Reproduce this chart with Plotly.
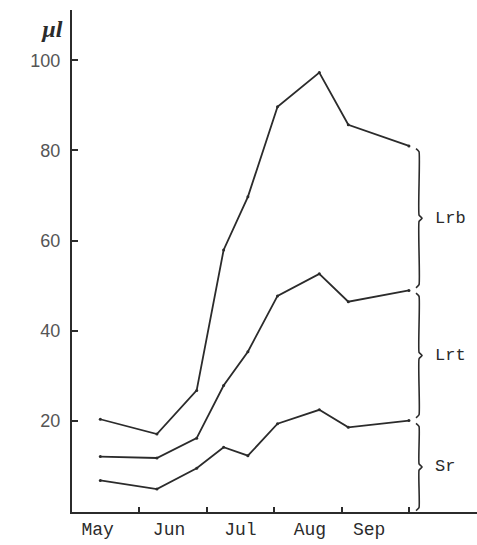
import plotly.graph_objects as go

# ---- data ----
months = ["May", "Jun", "Jul", "Aug", "Sep"]
month_label_pos = [0.38, 1.44, 2.5, 3.53, 4.41]
month_ticks = [1, 2, 3, 4, 5]
sample_pos = [0.42, 1.26, 1.85, 2.25, 2.61, 3.05, 3.67, 4.10, 5.00]

total_lrb = [20.3, 17.0, 26.7, 57.9, 69.7, 89.7, 97.3, 85.7, 81.0]
level_lrt = [12.0, 11.7, 16.1, 27.8, 35.3, 47.7, 52.6, 46.4, 48.9]
level_sr = [6.7, 4.8, 9.4, 14.1, 12.2, 19.3, 22.4, 18.5, 20.0]

brace_names = ["Lrb", "Lrt", "Sr"]
y_ticks = [20, 40, 60, 80, 100]

INK = "#2b2b2b"

fig = go.Figure()

for ys in (total_lrb, level_lrt, level_sr):
    fig.add_trace(go.Scatter(
        x=sample_pos, y=ys, mode="lines+markers",
        line=dict(color=INK, width=1.8),
        marker=dict(color=INK, size=3),
        showlegend=False, hoverinfo="skip"))

# braces spanning each band at the last sample
brace_x = 5.15
dx = 0.045
dy = 0.7
gap = 0.6
bounds = [(total_lrb[-1], level_lrt[-1]), (level_lrt[-1], level_sr[-1]), (level_sr[-1], 0.0)]
for name, (top, bot) in zip(brace_names, bounds):
    t = top - gap
    b = bot + gap if bot > 0 else bot
    m = (t + b) / 2
    bx = [brace_x - dx, brace_x, brace_x, brace_x + dx, brace_x, brace_x, brace_x - dx]
    by = [t, t - dy, m + dy, m, m - dy, b + dy, b]
    fig.add_trace(go.Scatter(x=bx, y=by, mode="lines",
                             line=dict(color=INK, width=1.6, shape="spline", smoothing=0.4),
                             showlegend=False, hoverinfo="skip"))
    fig.add_annotation(x=brace_x + 0.21, y=m, text=name, showarrow=False,
                       xanchor="left", yanchor="middle",
                       font=dict(family="Liberation Mono", size=17, color=INK))

# invisible trace to carry the month-label axis
fig.add_trace(go.Scatter(x=[None], y=[None], xaxis="x2", showlegend=False, hoverinfo="skip"))

fig.add_annotation(x=-0.05, xref="paper", y=107.0, yref="y", text="<b><i>µl</i></b>",
                   showarrow=False, xanchor="center", yanchor="middle",
                   font=dict(family="Liberation Serif", size=24, color=INK))

fig.update_layout(
    width=477, height=545,
    margin=dict(l=72, r=0, t=10, b=33),
    paper_bgcolor="white", plot_bgcolor="white",
    xaxis=dict(range=[0, 6.01], tickvals=month_ticks, showticklabels=False,
               ticks="inside", ticklen=5, tickwidth=1.5, tickcolor=INK,
               showline=True, linecolor=INK, linewidth=2,
               showgrid=False, zeroline=False, fixedrange=True),
    xaxis2=dict(range=[0, 6.01], overlaying="x", side="bottom", anchor="y",
                tickvals=month_label_pos, ticktext=months, ticks="",
                ticklabelstandoff=4,
                showline=False, showgrid=False, zeroline=False,
                tickfont=dict(family="Liberation Mono", size=18, color=INK)),
    yaxis=dict(range=[-0.3, 111.2], tickvals=y_ticks,
               ticks="inside", ticklen=6, tickwidth=1.5, tickcolor=INK,
               ticklabelstandoff=6,
               showline=True, linecolor=INK, linewidth=2,
               showgrid=False, zeroline=False,
               tickfont=dict(family="Liberation Sans", size=18, color="#555")),
)

fig.write_html("out.html", config={"displayModeBar": False},
               post_script="document.body.style.margin='0px';document.body.style.overflow='hidden';")
